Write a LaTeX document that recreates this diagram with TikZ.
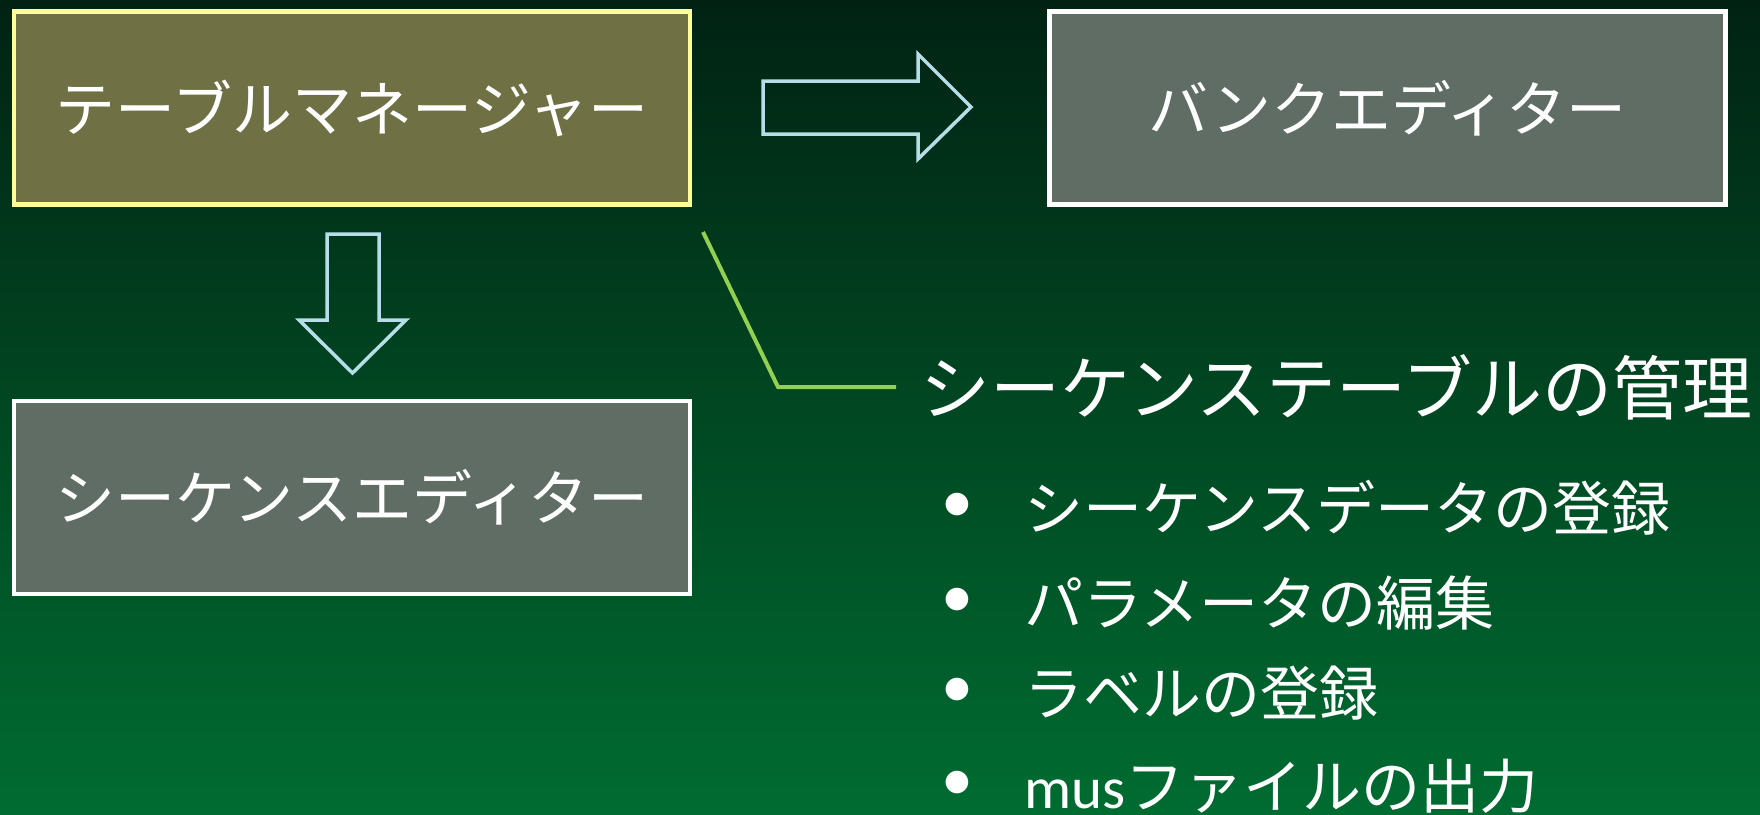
\documentclass[tikz,border=0pt]{standalone}
\usepackage{fontspec}
\setmainfont{Noto Sans CJK JP}
\newfontfamily\latinfont{Carlito}
\definecolor{bgtop}{HTML}{012213}
\definecolor{bgbot}{HTML}{006C31}
\definecolor{tmfill}{HTML}{6F7145}
\definecolor{tmline}{HTML}{FFFF99}
\definecolor{grayfill}{HTML}{606D65}
\definecolor{arrowblue}{HTML}{B7DDE8}
\definecolor{leaf}{HTML}{92D050}
\begin{document}
\begin{tikzpicture}[x=1pt,y=-1pt,
  box/.style={draw, line width=4.5pt, minimum width=676pt, minimum height=193pt, inner sep=0pt, text=white, font=\fontsize{60}{72}\selectfont},
  tmbox/.style={box, draw=tmline, fill=tmfill},
  graybox/.style={box, draw=white, fill=grayfill},
  blockarrow/.style={draw=arrowblue, line width=3.5pt, line join=miter},
  leafline/.style={draw=leaf, line width=4pt},
  titletext/.style={anchor=west, inner sep=0pt, text=white, font=\fontsize{70}{84}\selectfont},
  itemtext/.style={anchor=west, inner sep=0pt, text=white, font=\fontsize{59}{71}\selectfont},
  bullettext/.style={anchor=center, inner sep=0pt, text=white, font=\latinfont\fontsize{64}{76}\selectfont}]
\shade[top color=bgtop, bottom color=bgbot] (0,0) rectangle (1760,814);
\useasboundingbox (0,0) rectangle (1760,814);

\node[tmbox] (tm) at (352,108) {テーブルマネージャー};
\node[graybox] (be) at (1387.5,108) {バンクエディター};
\node[graybox] (se) at (352,497.5) {シーケンスエディター};

% right block arrow
\draw[blockarrow] (763,81) -- (918,81) -- (918,54) -- (971,107) -- (918,159) -- (918,134) -- (763,134) -- cycle;
% down block arrow
\draw[blockarrow] (327,234) -- (379,234) -- (379,320) -- (406,320) -- (352.5,373) -- (299,320) -- (327,320) -- cycle;

\node[titletext] (title) at (920,387) {シーケンステーブルの管理};
\coordinate (lstart) at (703,232);
\coordinate (lbend) at (778,387);
\coordinate (lend) at (896,387);
\draw[leafline] (lstart) -- (lbend) -- (lend);

\node[bullettext] (b1) at (957,508) {•};
\node[itemtext] (i1) at (1024,508) {シーケンスデータの登録};
\node[bullettext] (b2) at (957,603) {•};
\node[itemtext] (i2) at (1024,603) {パラメータの編集};
\node[bullettext] (b3) at (957,693) {•};
\node[itemtext] (i3) at (1024,693) {ラベルの登録};
\node[bullettext] (b4) at (957,786) {•};
\node[itemtext] (i4) at (1024,786) {{\latinfont mus}ファイルの出力};
\end{tikzpicture}
\end{document}
